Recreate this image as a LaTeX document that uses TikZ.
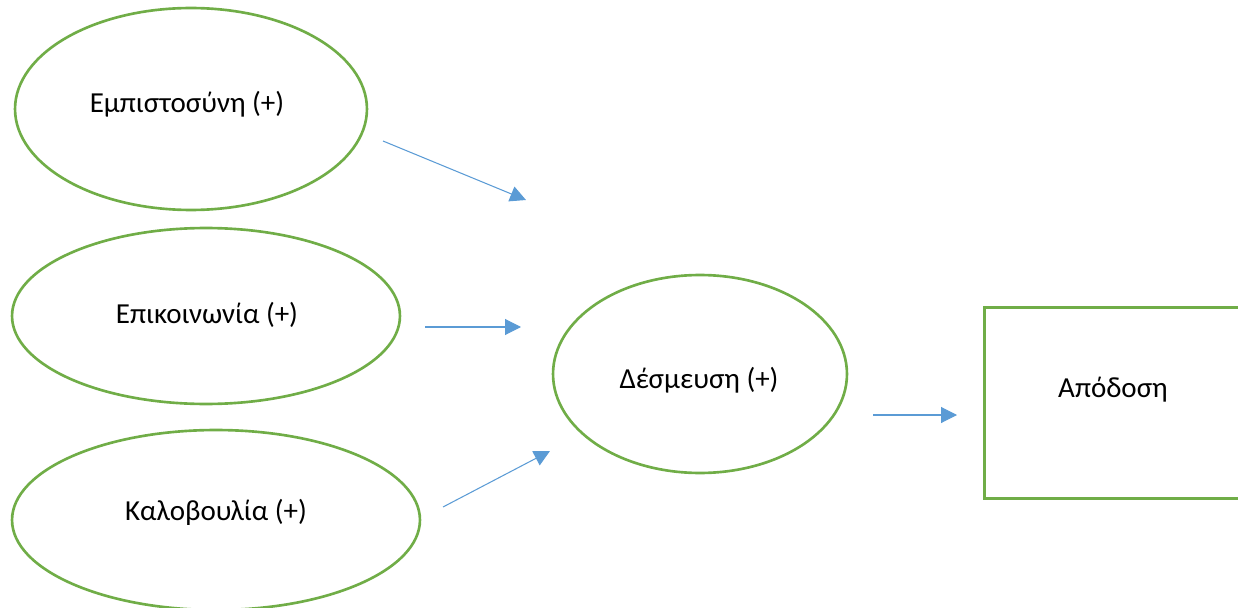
\documentclass[tikz,border=0pt]{standalone}
\usepackage{fontspec}
\setmainfont{Carlito}
\usetikzlibrary{shapes.geometric, arrows.meta}

\definecolor{leaf}{HTML}{70AD47}
\definecolor{sky}{HTML}{5B9BD5}

\begin{document}
\begin{tikzpicture}[x=0.02cm, y=-0.02cm,
    factor/.style={ellipse, draw=leaf, line width=1.5pt, inner sep=0pt},
    lbl/.style={font=\fontsize{16.5}{19}\selectfont},
    link/.style={draw=sky, line width=0.6pt, -{Triangle[length=9pt, width=9pt]}}]

            \useasboundingbox (0,0) rectangle (1238,608);
            \clip (0,0) rectangle (1238,608);

            \node[factor, minimum width=7.04cm, minimum height=4.04cm] (trust) at (191,109) {};
            \node[factor, minimum width=7.76cm, minimum height=3.52cm] (comm) at (206,316) {};
            \node[factor, minimum width=8.16cm, minimum height=3.6cm] (good) at (216,520) {};
            \node[factor, minimum width=5.88cm, minimum height=3.96cm] (commit) at (700,374) {};
            \node[draw=leaf, line width=1.5pt, minimum width=6cm, minimum height=3.82cm, anchor=north west] (perf) at (983,306) {};

            \node[lbl] (trustlbl) at (187,104) {Εμπιστοσύνη (+)};
            \node[lbl] (commlbl) at (207,315) {Επικοινωνία (+)};
            \node[lbl] (goodlbl) at (216,512) {Καλοβουλία (+)};
            \node[lbl] (commitlbl) at (699,380) {Δέσμευση (+)};
            \node[lbl] (perflbl) at (1113,390) {Απόδοση};

            \coordinate (a1) at (383,141);
            \coordinate (b1) at (526,200);
            \coordinate (a2) at (425,327);
            \coordinate (b2) at (521,327);
            \coordinate (a3) at (443,507);
            \coordinate (b3) at (550,451);
            \coordinate (a4) at (873,415);
            \coordinate (b4) at (957,415);

            \draw[link] (a1) -- (b1);
            \draw[link] (a2) -- (b2);
            \draw[link] (a3) -- (b3);
            \draw[link] (a4) -- (b4);
        \end{tikzpicture}
\end{document}
